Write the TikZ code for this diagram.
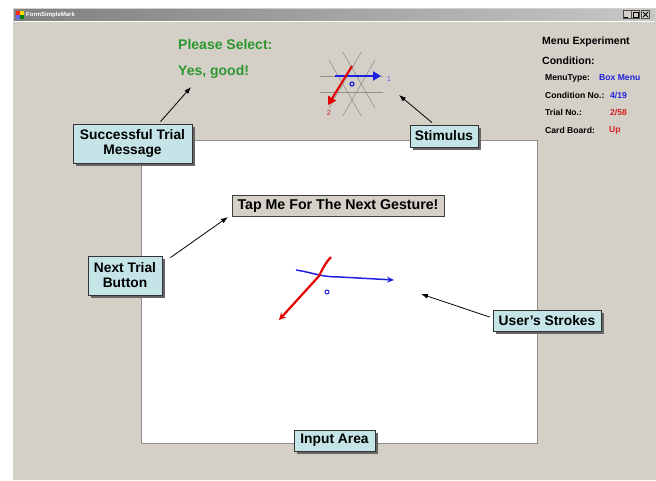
\documentclass[tikz,border=0pt]{standalone}
\usepackage{fontspec}
\setmainfont{Liberation Sans}
\usetikzlibrary{shadows,arrows.meta}
\definecolor{winbg}{HTML}{D4D0C8}
\definecolor{notefill}{HTML}{C4E4E8}
\definecolor{okgreen}{HTML}{2E962E}
\definecolor{infoblue}{HTML}{2020E0}
\definecolor{infored}{HTML}{D02020}
\definecolor{gridgray}{HTML}{909090}
\tikzset{
  note/.style={draw=black!80, line width=0.8pt, fill=notefill, font=\bfseries\fontsize{13.8}{15}\selectfont,
    align=center, inner xsep=3pt, inner ysep=2pt,
    drop shadow={shadow xshift=3pt, shadow yshift=-3pt, fill=black!60, opacity=1}},
  pointer/.style={draw=black, line width=0.8pt, -{Latex[length=7pt,width=5pt]}},
  info/.style={anchor=west, inner sep=0pt, font=\bfseries\fontsize{8.6}{9}\selectfont},
  gridline/.style={draw=gridgray, line width=0.6pt},
  greenmsg/.style={anchor=west, inner sep=0pt, text=okgreen, font=\bfseries\fontsize{14}{15}\selectfont},
}
\begin{document}
\begin{tikzpicture}[x=1pt,y=-1pt]
\useasboundingbox (0,0) rectangle (656,480);
\fill[white] (0,0) rectangle (656,480);
% window
\fill[winbg] (13,8) rectangle (656,480);
\shade[left color=black!50, right color=black!22] (14,9) rectangle (655,20);
\fill[red!70!orange] (16,11) rectangle (20,15);
\fill[blue!60] (16,15) rectangle (20,19);
\fill[yellow!80!orange] (20,11) rectangle (24,15);
\fill[green!50!black] (20,15) rectangle (24,19);
\node[anchor=west, inner sep=0pt, text=white, font=\bfseries\fontsize{6}{7}\selectfont] (title) at (26,14.5) {FormSimpleMark};
\foreach \bx/\nm in {623/bmin,631/bmax,641/bclose}{
  \node[draw=black!70, fill=winbg, minimum width=8pt, minimum height=8pt, inner sep=0pt] (\nm) at (\bx+4,14.5) {};
}
\draw[line width=0.8pt] (624,17) -- (628,17);
\draw[line width=0.6pt] (633.5,12) rectangle (638.5,17);
\draw[line width=0.8pt] (643,12) -- (648,17) (648,12) -- (643,17);
\draw[white, line width=0.8pt] (14,21) -- (655,21);

% input area
\node[draw=black!45, fill=white, line width=0.7pt, minimum width=396pt, minimum height=303pt, anchor=north west, inner sep=0pt] (input) at (141,140) {};

% green messages
\node[greenmsg] (please) at (178,44) {Please Select:};
\node[greenmsg] (yes) at (178,72) {Yes, good!};

% stimulus grid (hexagram)
\draw[gridline] (320,76) -- (383,76);
\draw[gridline] (320,92) -- (383,92);
\draw[gridline] (342.9,52.3) -- (374.9,107.7);
\draw[gridline] (329.1,60.3) -- (361.1,115.7);
\draw[gridline] (361.1,52.3) -- (329.1,107.7);
\draw[gridline] (374.9,60.3) -- (342.9,115.7);
\coordinate (sb0) at (335,76);
\coordinate (sb1) at (381,76);
\draw[infoblue, line width=2pt, -{Triangle[length=8pt,width=9pt]}] (sb0) -- (sb1);
\coordinate (sr0) at (352,66);
\coordinate (sr1) at (328,105);
\draw[red!90!black, line width=2pt, -{Triangle[length=8pt,width=9pt]}] (sr0) -- (sr1);
\draw[infoblue, line width=1.2pt] (352,84) circle (2pt);
\node[text=infoblue!70, font=\fontsize{7.5}{8}\selectfont, inner sep=0pt] (one) at (389,79) {1};
\node[text=infored, font=\fontsize{7.5}{8}\selectfont, inner sep=0pt] (two) at (329,113) {2};

% right info panel
\node[info, font=\bfseries\fontsize{10.5}{11}\selectfont] (menuexp) at (542,42) {Menu Experiment};
\node[info, font=\bfseries\fontsize{10.5}{11}\selectfont] (cond) at (542,61) {Condition:};
\node[info] (mt) at (545,78) {MenuType:};
\node[info, text=infoblue] (mtv) at (599,78) {Box Menu};
\node[info] (cn) at (545,95) {Condition No.:};
\node[info, text=infoblue] (cnv) at (610,95) {4/19};
\node[info] (tn) at (545,112) {Trial No.:};
\node[info, text=infored] (tnv) at (610,112) {2/58};
\node[info] (cb) at (545,130) {Card Board:};
\node[info, text=infored] (cbv) at (609,130) {Up};

% next gesture button
\node[draw=black!75, fill=winbg, line width=0.8pt, minimum width=212pt, minimum height=21pt, inner sep=0pt,
  font=\bfseries\fontsize{14.2}{15}\selectfont] (tapbtn) at (338,205.5) {Tap Me For The Next Gesture!};

% user strokes
\draw[infoblue, line width=1.5pt, -{Stealth[length=7pt,width=6pt]}] (296,270) .. controls (315,273) and (320,277) .. (340,277) -- (394,280);
\draw[red!90!black, line width=2.2pt, -{Stealth[length=7pt,width=7pt]}] (331,257) .. controls (326,262) and (323,268) .. (319,276) -- (279,320);
\draw[infoblue, line width=1pt] (327,292) circle (2pt);

% annotation boxes
\node[note, minimum width=119pt, minimum height=39pt] (succ) at (132.5,143.5) {Successful Trial\\Message};
\node[note, minimum width=68pt, minimum height=22pt] (stim) at (444,136) {Stimulus};
\node[note, minimum width=74pt, minimum height=39pt] (next) at (125,275.5) {Next Trial\\Button};
\node[note, minimum width=108pt, minimum height=21pt] (strokes) at (547,320.5) {User’s Strokes};
\node[note, minimum width=81pt, minimum height=21pt] (area) at (334.5,440.5) {Input Area};

% pointers
\coordinate (psucc) at (191,87);
\coordinate (pstim) at (399,95);
\coordinate (pnext) at (228,217);
\coordinate (pstrokes) at (421,294);
\draw[pointer] ([xshift=28pt,yshift=2pt]succ.north) -- (psucc);
\draw[pointer] ([xshift=-12pt,yshift=2pt]stim.north) -- (pstim);
\draw[pointer] ([xshift=8pt,yshift=-2pt]next.north east) -- (pnext);
\draw[pointer] ([xshift=-3pt,yshift=3.5pt]strokes.west) -- (pstrokes);
\end{tikzpicture}
\end{document}
